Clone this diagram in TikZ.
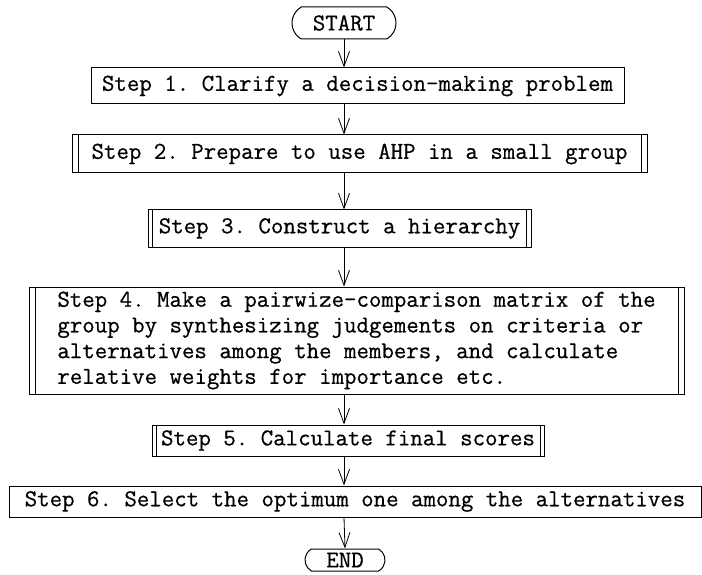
\documentclass[tikz,border=0pt]{standalone}
\usepackage{fontspec}
\setmonofont[FakeBold=0.6]{Latin Modern Mono}
\usepackage{tikz}
\usetikzlibrary{arrows.meta,shapes.misc}

\tikzset{
  stepbox/.style={draw, line width=1pt, inner sep=0pt, font=\fontsize{24.2}{25.7}\ttfamily},
  termbox/.style={draw, line width=1pt, rounded rectangle, rounded rectangle arc length=120,
    inner sep=0pt, font=\fontsize{24.2}{25.7}\ttfamily},
  flow/.style={line width=0.8pt, -{Straight Barb[length=15pt,width=11pt,line width=0.8pt]}}
}

\begin{document}
\begin{tikzpicture}[x=1pt,y=-1pt]
                    \useasboundingbox (0,0) rectangle (702,575);
                    \node[termbox, minimum width=104pt, minimum height=32pt] (start) at (344,23) {START};
                    \node[stepbox, minimum width=533pt, minimum height=36pt] (step1) at (357.5,86) {Step 1. Clarify a decision-making problem};
                    \node[stepbox, minimum width=575pt, minimum height=38pt] (step2) at (359.5,154) {Step 2. Prepare to use AHP in a small group};
                    \node[stepbox, minimum width=383pt, minimum height=37pt] (step3) at (339.5,228.5) {Step 3. Construct a hierarchy};
                    \node[stepbox, align=left, minimum width=655pt, minimum height=107pt] (step4) at (356.5,340.5) {Step 4. Make a pairwize-comparison matrix of the\\group by synthesizing judgements on criteria or\\alternatives among the members, and calculate\\relative weights for importance etc.};
                    \node[stepbox, minimum width=392pt, minimum height=31pt] (step5) at (348,440.5) {Step 5. Calculate final scores};
                    \node[stepbox, minimum width=692pt, minimum height=31pt] (step6) at (355,501.5) {Step 6. Select the optimum one among the alternatives};
                    \node[termbox, minimum width=80pt, minimum height=22pt] (end) at (345,560) {END};
                    \foreach \n/\d in {step2/6.5,step3/5,step4/6.5,step5/4.5} {
                        \draw[line width=1pt] ([xshift=\d pt]\n.north west) -- ([xshift=\d pt]\n.south west);
                        \draw[line width=1pt] ([xshift=-\d pt]\n.north east) -- ([xshift=-\d pt]\n.south east);
                    }
                    \draw[flow] (start.south) -- (start.south |- step1.north);
                    \draw[flow] (start |- step1.south) -- (start |- step2.north);
                    \draw[flow] (start |- step2.south) -- (start |- step3.north);
                    \draw[flow] (start |- step3.south) -- (start |- step4.north);
                    \draw[flow] (start |- step4.south) -- (start |- step5.north);
                    \draw[flow] (start |- step5.south) -- (start |- step6.north);
                    \draw[flow] (start |- step6.south) -- (end.north);
                \end{tikzpicture}
\end{document}
